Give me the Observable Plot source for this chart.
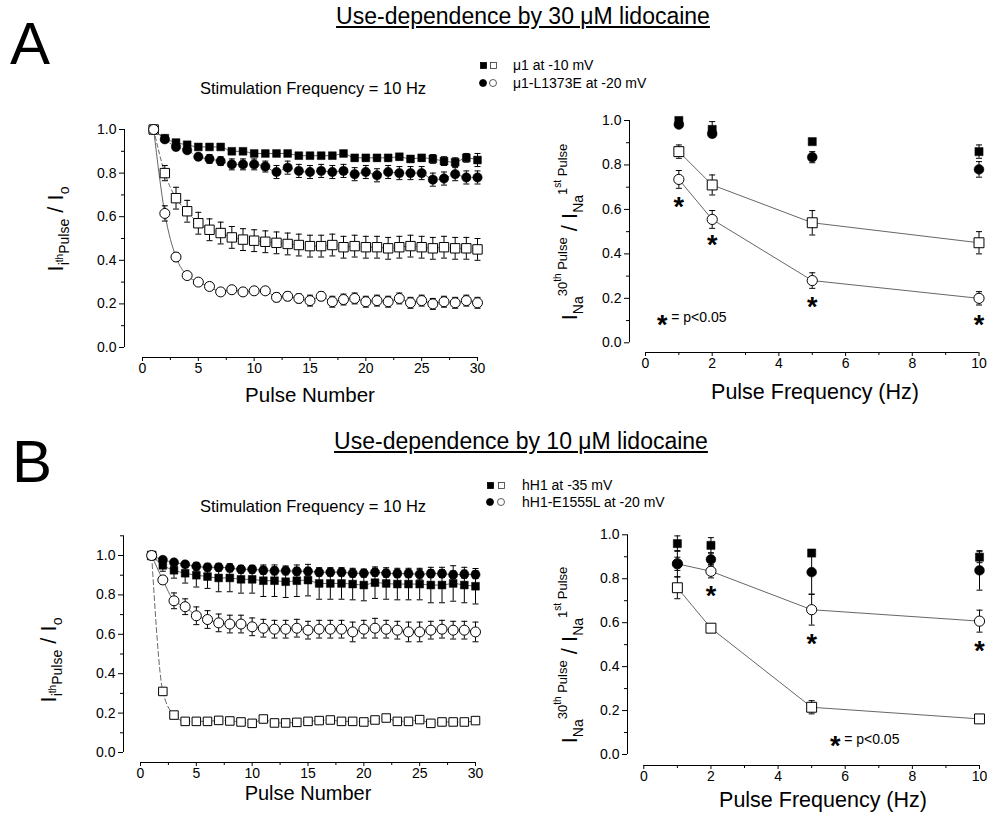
<!DOCTYPE html>
<html><head><meta charset="utf-8">
<script src="https://cdn.jsdelivr.net/npm/d3@7"></script>
<script src="https://cdn.jsdelivr.net/npm/@observablehq/plot@0.6"></script>
<style>
body{margin:0;background:#fff;}
#fig{position:relative;width:987px;height:813px;overflow:hidden;background:#fff;color:#000;font-family:"Liberation Sans",Arial,Helvetica,sans-serif;}
.abs{position:absolute;white-space:nowrap;}
.big{font-size:22px;}
.sb{font-size:14px;position:relative;top:0.4em;}
.sp{font-size:13px;position:relative;top:-0.75em;}
.sp2{font-size:10px;position:relative;top:-0.6em;}
</style></head><body><div id="fig"></div>
<script>
// ---------------- data ----------------
const pulseNumber = [1,2,3,4,5,6,7,8,9,10,11,12,13,14,15,16,17,18,19,20,21,22,23,24,25,26,27,28,29,30];
const pulseFrequency = [1,2,5,10];

// Panel A left (30 uM lidocaine, 10 Hz)
const aMu1Closed     = [1.00,0.96,0.94,0.93,0.92,0.92,0.92,0.90,0.90,0.89,0.89,0.89,0.89,0.88,0.88,0.88,0.88,0.89,0.87,0.87,0.87,0.87,0.875,0.865,0.87,0.865,0.855,0.85,0.87,0.86];
const aMu1ClosedErr  = [0,0.01,0.01,0.01,0.01,0.01,0.01,0.01,0.01,0.01,0.01,0.01,0.01,0.01,0.01,0.01,0.01,0.01,0.015,0.015,0.015,0.015,0.015,0.015,0.015,0.02,0.02,0.02,0.02,0.03];
const aL1373EClosed  = [1.00,0.955,0.92,0.905,0.875,0.865,0.855,0.84,0.84,0.84,0.83,0.805,0.825,0.81,0.805,0.81,0.805,0.81,0.795,0.805,0.79,0.805,0.80,0.80,0.80,0.77,0.775,0.795,0.78,0.78];
const aL1373EClosedErr=[0,0.01,0.01,0.015,0.015,0.02,0.02,0.025,0.025,0.025,0.025,0.03,0.03,0.03,0.03,0.03,0.03,0.03,0.03,0.03,0.03,0.03,0.03,0.03,0.03,0.03,0.03,0.03,0.03,0.03];
const aMu1Open       = [1.00,0.80,0.685,0.625,0.57,0.54,0.525,0.505,0.495,0.49,0.485,0.48,0.475,0.47,0.465,0.465,0.47,0.46,0.465,0.46,0.46,0.455,0.46,0.465,0.46,0.455,0.46,0.455,0.455,0.45];
const aMu1OpenErr    = [0,0.035,0.05,0.05,0.05,0.05,0.05,0.05,0.05,0.05,0.05,0.05,0.05,0.05,0.05,0.05,0.05,0.05,0.05,0.05,0.05,0.05,0.05,0.05,0.05,0.05,0.05,0.05,0.05,0.05];
const aL1373EOpen    = [1.00,0.615,0.415,0.33,0.30,0.28,0.255,0.265,0.255,0.26,0.26,0.23,0.235,0.225,0.215,0.235,0.21,0.22,0.225,0.21,0.215,0.21,0.225,0.205,0.215,0.20,0.21,0.205,0.215,0.205];
const aL1373EOpenErr = [0,0.035,0.02,0.015,0.015,0.015,0.015,0.015,0.015,0.015,0.015,0.02,0.02,0.02,0.025,0.02,0.025,0.025,0.025,0.025,0.025,0.025,0.025,0.025,0.025,0.025,0.025,0.025,0.025,0.025];

// Panel A right
const aFreqMu1Closed    = [1.00,0.96,0.905,0.86];
const aFreqMu1ClosedErr = [0.01,0.035,0.01,0.03];
const aFreqL1373EClosed = [0.982,0.94,0.835,0.78];
const aFreqL1373EClosedErr = [0.01,0.01,0.025,0.035];
const aFreqMu1Open      = [0.86,0.71,0.54,0.45];
const aFreqMu1OpenErr   = [0.03,0.045,0.055,0.05];
const aFreqL1373EOpen   = [0.735,0.555,0.28,0.20];
const aFreqL1373EOpenErr= [0.04,0.04,0.035,0.03];
const aStarFreq = [1,2,5,10];
const aStarY    = [0.64,0.47,0.19,0.11];
const aNoteX = [0.5], aNoteY = [0.112];

// Panel B left (10 uM lidocaine, 10 Hz)
const bHH1Closed      = [1.00,0.95,0.925,0.91,0.90,0.893,0.886,0.886,0.879,0.879,0.872,0.872,0.867,0.872,0.875,0.858,0.858,0.858,0.855,0.85,0.862,0.858,0.855,0.855,0.855,0.85,0.85,0.858,0.85,0.844];
const bHH1ClosedErr   = [0,0.03,0.04,0.05,0.06,0.06,0.07,0.07,0.07,0.07,0.08,0.08,0.08,0.08,0.08,0.08,0.08,0.08,0.08,0.08,0.08,0.08,0.08,0.08,0.08,0.09,0.09,0.09,0.09,0.09];
const bE1555LClosed   = [1.00,0.978,0.965,0.955,0.945,0.94,0.94,0.937,0.93,0.93,0.925,0.922,0.922,0.92,0.92,0.915,0.915,0.915,0.91,0.91,0.915,0.91,0.908,0.908,0.905,0.908,0.908,0.902,0.905,0.903];
const bE1555LClosedErr= [0,0.01,0.015,0.015,0.02,0.02,0.02,0.02,0.02,0.02,0.02,0.02,0.02,0.02,0.02,0.02,0.02,0.02,0.02,0.02,0.02,0.02,0.02,0.02,0.025,0.02,0.02,0.02,0.02,0.02];
const bHH1Open        = [1.00,0.31,0.19,0.158,0.158,0.158,0.163,0.16,0.155,0.148,0.17,0.15,0.15,0.153,0.158,0.162,0.165,0.158,0.158,0.155,0.165,0.175,0.158,0.158,0.167,0.148,0.155,0.155,0.155,0.162];
const bHH1OpenErr     = [0,0.015,0.01,0.01,0.01,0.01,0.01,0.01,0.01,0.01,0.01,0.01,0.01,0.01,0.01,0.01,0.01,0.01,0.01,0.01,0.015,0.015,0.01,0.01,0.01,0.01,0.01,0.01,0.01,0.015];
const bE1555LOpen     = [1.00,0.876,0.77,0.74,0.694,0.675,0.658,0.652,0.652,0.638,0.631,0.626,0.626,0.631,0.621,0.626,0.626,0.626,0.612,0.626,0.631,0.626,0.621,0.612,0.612,0.621,0.626,0.621,0.621,0.612];
const bE1555LOpenErr  = [0,0.02,0.04,0.04,0.045,0.045,0.045,0.045,0.045,0.045,0.045,0.045,0.045,0.045,0.045,0.045,0.045,0.045,0.05,0.045,0.05,0.045,0.045,0.05,0.05,0.045,0.045,0.045,0.045,0.05];

// Panel B right
const bFreqHH1Closed     = [0.96,0.952,0.917,0.898];
const bFreqHH1ClosedErr  = [0.035,0.035,0.01,0.025];
const bFreqE1555LClosed  = [0.868,0.888,0.83,0.838];
const bFreqE1555LClosedErr=[0.06,0.03,0.10,0.09];
const bFreqHH1Open       = [0.759,0.575,0.215,0.162];
const bFreqHH1OpenErr    = [0.05,0.01,0.03,0.01];
const bFreqE1555LOpen    = [0.868,0.834,0.659,0.607];
const bFreqE1555LOpenErr = [0.03,0.03,0.07,0.05];
const bStarFreq = [2,5,10];
const bStarY    = [0.75,0.535,0.50];
const bNoteX = [5.7], bNoteY = [0.067];

// axis ticks
const yTicks = [0,0.2,0.4,0.6,0.8,1.0];
const yMinor = [0.1,0.3,0.5,0.7,0.9];
const yMinorB = [0.1,0.3,0.5,0.7,0.9,1.1];
const pulseTicks = [0,5,10,15,20,25,30];
const pulseMinor = [2.5,7.5,12.5,17.5,22.5,27.5];
const freqTicks = [0,2,4,6,8,10];
const freqMinor = [1,3,5,7,9];

// ---------------- helpers ----------------
const FONT = '"Liberation Sans", Arial, Helvetica, sans-serif';
const fig = document.getElementById("fig");
const rows = (xs, ys, es) => xs.map((x, i) => ({x, y: ys[i], e: es ? es[i] : 0}));
const capSymbol = {draw(ctx, size) { const w = Math.sqrt(size / Math.PI); ctx.moveTo(-w, 0); ctx.lineTo(w, 0); }};

function errorMarks(data) {
  const d = data.filter(v => v.e > 0);
  return [
    Plot.ruleX(d, {x: "x", y1: v => v.y - v.e, y2: v => v.y + v.e, stroke: "#000", strokeWidth: 1}),
    Plot.dot(d, {x: "x", y: v => v.y + v.e, symbol: capSymbol, r: 3, stroke: "#000", strokeWidth: 1}),
    Plot.dot(d, {x: "x", y: v => v.y - v.e, symbol: capSymbol, r: 3, stroke: "#000", strokeWidth: 1})
  ];
}
const filledSq = (d, r = 4.6) => Plot.dot(d, {x: "x", y: "y", symbol: "square", r, fill: "#000", stroke: "#000", strokeWidth: 0.5});
const filledCi = (d, r = 4.7) => Plot.dot(d, {x: "x", y: "y", symbol: "circle", r, fill: "#000", stroke: "#000", strokeWidth: 0.5});
const openSq = (d, r = 5.3) => Plot.dot(d, {x: "x", y: "y", symbol: "square", r, fill: "#fff", stroke: "#000", strokeWidth: 1});
const openCi = (d, r = 5) => Plot.dot(d, {x: "x", y: "y", symbol: "circle", r, fill: "#fff", stroke: "#000", strokeWidth: 1});
const fit = (d, dash) => Plot.line(d, {x: "x", y: "y", curve: "monotone-x", stroke: "#555", strokeWidth: 0.9, strokeDasharray: dash});
const link = (d, dash) => Plot.line(d, {x: "x", y: "y", curve: "linear", stroke: "#555", strokeWidth: 0.9, strokeDasharray: dash});

function panel(c) {
  const svg = Plot.plot({
    width: c.width, height: c.height,
    marginLeft: c.yAxisX - c.left, marginRight: 0, marginTop: 0,
    marginBottom: c.top + c.height - c.xAxisY,
    style: {fontFamily: FONT, fontSize: "14px", color: "#000", background: "transparent", overflow: "visible"},
    x: {domain: c.xDomain, range: [c.xPix[0] - c.left, c.xPix[1] - c.left], label: null},
    y: {domain: [0, 1], range: [c.yPix[0] - c.top, c.yPix[1] - c.top], label: null},
    marks: [
      Plot.ruleX([c.xDomain[0]], {y1: 0, y2: c.yTop, dx: c.yAxisX - c.xPix[0], stroke: "#000", strokeWidth: 1}),
      Plot.ruleY([0], {x1: c.xDomain[0], x2: c.xDomain[1], dy: c.xAxisY - c.yPix[0], stroke: "#000", strokeWidth: 1}),
      Plot.axisY(c.yMinor, {anchor: "left", tickSize: 3, tickFormat: () => "", label: null}),
      Plot.axisY(yTicks, {anchor: "left", tickSize: 5, tickPadding: 3, tickFormat: d3.format(".1f"), label: null}),
      Plot.axisX(c.xMinor, {anchor: "bottom", tickSize: 3, tickFormat: () => "", label: null}),
      Plot.axisX(c.xTicks, {anchor: "bottom", tickSize: 4, tickPadding: 2, tickFormat: d3.format("d"), label: null}),
      ...c.marks
    ]
  });
  svg.style.position = "absolute";
  svg.style.left = c.left + "px";
  svg.style.top = c.top + "px";
  fig.appendChild(svg);
}

function txt(html, o) {
  const d = document.createElement("div");
  d.className = "abs";
  d.innerHTML = html;
  d.style.fontSize = o.fs + "px";
  d.style.lineHeight = o.fs + "px";
  d.style.top = (o.base - 0.8465 * o.fs) + "px";
  d.style.left = o.x + "px";
  if (o.underline) d.style.textDecoration = "underline";
  if (o.anchor === "middle") d.style.transform = "translateX(-50%)";
  fig.appendChild(d);
}
function vtxt(html, cx, cy, fs) {
  const d = document.createElement("div");
  d.className = "abs";
  d.innerHTML = html;
  d.style.fontSize = fs + "px";
  d.style.lineHeight = "1";
  d.style.left = cx + "px";
  d.style.top = cy + "px";
  d.style.transform = "translate(-50%,-50%) rotate(-90deg)";
  fig.appendChild(d);
}
// legend key glyphs (not data): small filled/open square or circle
function key(shape, filled, cx, cy, s) {
  const ns = "http://www.w3.org/2000/svg";
  const svg = document.createElementNS(ns, "svg");
  svg.setAttribute("width", s + 2); svg.setAttribute("height", s + 2);
  svg.style.position = "absolute";
  svg.style.left = (cx - s / 2 - 1) + "px"; svg.style.top = (cy - s / 2 - 1) + "px";
  const el = document.createElementNS(ns, shape === "square" ? "rect" : "circle");
  if (shape === "square") { el.setAttribute("x", 1.5); el.setAttribute("y", 1.5); el.setAttribute("width", s - 1); el.setAttribute("height", s - 1); }
  else { el.setAttribute("cx", s / 2 + 1); el.setAttribute("cy", s / 2 + 1); el.setAttribute("r", s / 2 - 0.5); }
  el.setAttribute("fill", filled ? "#000" : "#fff");
  el.setAttribute("stroke", filled ? "#000" : "#333");
  el.setAttribute("stroke-width", 0.8);
  svg.appendChild(el);
  fig.appendChild(svg);
}
const starMarks = (xs, ys) => Plot.text(xs.map((x, i) => ({x, y: ys[i]})), {x: "x", y: "y", text: () => "*", fontSize: 27, fontWeight: "bold", dy: 7});
const noteMarks = (xs, ys) => [
  starMarks(xs, ys),
  Plot.text(xs.map((x, i) => ({x, y: ys[i]})), {x: "x", y: "y", text: () => "= p<0.05", fontSize: 14, textAnchor: "start", dx: 9})
];

// ---------------- Panel A left ----------------
{
  const fs = rows(pulseNumber, aMu1Closed, aMu1ClosedErr);
  const fc = rows(pulseNumber, aL1373EClosed, aL1373EClosedErr);
  const os = rows(pulseNumber, aMu1Open, aMu1OpenErr);
  const oc = rows(pulseNumber, aL1373EOpen, aL1373EOpenErr);
  panel({left: 0, top: 100, width: 495, height: 300, yAxisX: 124, xAxisY: 357,
    xDomain: [0, 30], xPix: [142, 477], yPix: [347, 129], yTop: 1.0,
    xTicks: pulseTicks, xMinor: pulseMinor, yMinor,
    marks: [fit(fs), fit(fc, "4,3"), fit(os, "4,3"), fit(oc),
      ...errorMarks(fs), ...errorMarks(fc), ...errorMarks(os), ...errorMarks(oc),
      filledSq(fs, 4.4), filledCi(fc), openSq(os), openCi(oc)]});
}
// ---------------- Panel A right ----------------
{
  const fs = rows(pulseFrequency, aFreqMu1Closed, aFreqMu1ClosedErr);
  const fc = rows(pulseFrequency, aFreqL1373EClosed, aFreqL1373EClosedErr);
  const os = rows(pulseFrequency, aFreqMu1Open, aFreqMu1OpenErr);
  const oc = rows(pulseFrequency, aFreqL1373EOpen, aFreqL1373EOpenErr);
  panel({left: 540, top: 100, width: 447, height: 300, yAxisX: 629, xAxisY: 352,
    xDomain: [0, 10], xPix: [645, 978.5], yPix: [342.3, 120], yTop: 1.0,
    xTicks: freqTicks, xMinor: freqMinor, yMinor,
    marks: [link(os), link(oc),
      ...errorMarks(fs), ...errorMarks(fc), ...errorMarks(os), ...errorMarks(oc),
      filledSq(fs, 4.6), filledCi(fc, 4.9), openSq(os, 5.6), openCi(oc, 5.1),
      starMarks(aStarFreq, aStarY), ...noteMarks(aNoteX, aNoteY)]});
}
// ---------------- Panel B left ----------------
{
  const fs = rows(pulseNumber, bHH1Closed, bHH1ClosedErr);
  const fc = rows(pulseNumber, bE1555LClosed, bE1555LClosedErr);
  const os = rows(pulseNumber, bHH1Open, bHH1OpenErr);
  const oc = rows(pulseNumber, bE1555LOpen, bE1555LOpenErr);
  panel({left: 0, top: 520, width: 495, height: 293, yAxisX: 123, xAxisY: 762,
    xDomain: [0, 30], xPix: [140, 475], yPix: [752, 555], yTop: 1.1,
    xTicks: pulseTicks, xMinor: pulseMinor, yMinor: yMinorB,
    marks: [fit(fs), fit(fc), fit(os, "5,3"), fit(oc),
      ...errorMarks(fs), ...errorMarks(fc), ...errorMarks(os), ...errorMarks(oc),
      filledSq(fs, 4.4), filledCi(fc, 4.6), openSq(os, 4.8), openCi(oc, 5)]});
}
// ---------------- Panel B right ----------------
{
  const fs = rows(pulseFrequency, bFreqHH1Closed, bFreqHH1ClosedErr);
  const fc = rows(pulseFrequency, bFreqE1555LClosed, bFreqE1555LClosedErr);
  const os = rows(pulseFrequency, bFreqHH1Open, bFreqHH1OpenErr);
  const oc = rows(pulseFrequency, bFreqE1555LOpen, bFreqE1555LOpenErr);
  panel({left: 540, top: 515, width: 447, height: 298, yAxisX: 627, xAxisY: 765,
    xDomain: [0, 10], xPix: [643.3, 979], yPix: [754, 534.3], yTop: 1.0,
    xTicks: freqTicks, xMinor: freqMinor, yMinor,
    marks: [link(os), link(oc),
      ...errorMarks(os), ...errorMarks(oc), ...errorMarks(fs), ...errorMarks(fc),
      openSq(os, 5.6), openCi(oc, 5.1), filledSq(fs, 4.6), filledCi(fc, 4.9),
      starMarks(bStarFreq, bStarY), ...noteMarks(bNoteX, bNoteY)]});
}

// ---------------- text ----------------
txt("A", {x: 10, base: 65, fs: 60});
txt("B", {x: 12, base: 483, fs: 60});
txt("Use-dependence by 30 &mu;M lidocaine", {x: 523, base: 24, fs: 23, anchor: "middle", underline: true});
txt("Use-dependence by 10 &mu;M lidocaine", {x: 521, base: 449, fs: 23, anchor: "middle", underline: true});
txt("Stimulation Frequency = 10 Hz", {x: 200, base: 94, fs: 16.5});
txt("Stimulation Frequency = 10 Hz", {x: 200, base: 512, fs: 16.5});

key("square", true, 483, 65, 7);  key("square", false, 493, 65, 7);
key("circle", true, 483, 82.5, 8); key("circle", false, 493, 82.5, 8);
txt("&mu;1 at -10 mV", {x: 513, base: 70, fs: 14});
txt("&mu;1-L1373E at -20 mV", {x: 513, base: 87.5, fs: 14});

key("square", true, 490, 485, 7);  key("square", false, 501, 485, 7);
key("circle", true, 490, 502, 8);  key("circle", false, 501, 502, 8);
txt("hH1 at -35 mV", {x: 522, base: 490, fs: 14});
txt("hH1-E1555L at -20 mV", {x: 522, base: 507, fs: 14});

txt("Pulse Number", {x: 310, base: 402, fs: 20.5, anchor: "middle"});
txt("Pulse Number", {x: 308, base: 800, fs: 20, anchor: "middle"});
txt("Pulse Frequency (Hz)", {x: 815, base: 400, fs: 21.5, anchor: "middle"});
txt("Pulse Frequency (Hz)", {x: 823, base: 808, fs: 21.5, anchor: "middle"});

const leftLabel = '<span class="big">I</span><span class="sb">i<span class="sp2">th</span>Pulse</span> <span class="big">/ I</span><span class="sb">o</span>';
const rightLabel = '<span class="big">I</span><span class="sb">Na</span><span class="sp">30<span class="sp2">th</span> Pulse</span> <span class="big">/ I</span><span class="sb">Na</span><span class="sp">1<span class="sp2">st</span> Pulse</span>';
vtxt(leftLabel, 56, 229, 22);
vtxt(leftLabel, 49, 660, 22);
vtxt(rightLabel, 570, 232, 22);
vtxt(rightLabel, 570, 655, 22);
</script></body></html>
